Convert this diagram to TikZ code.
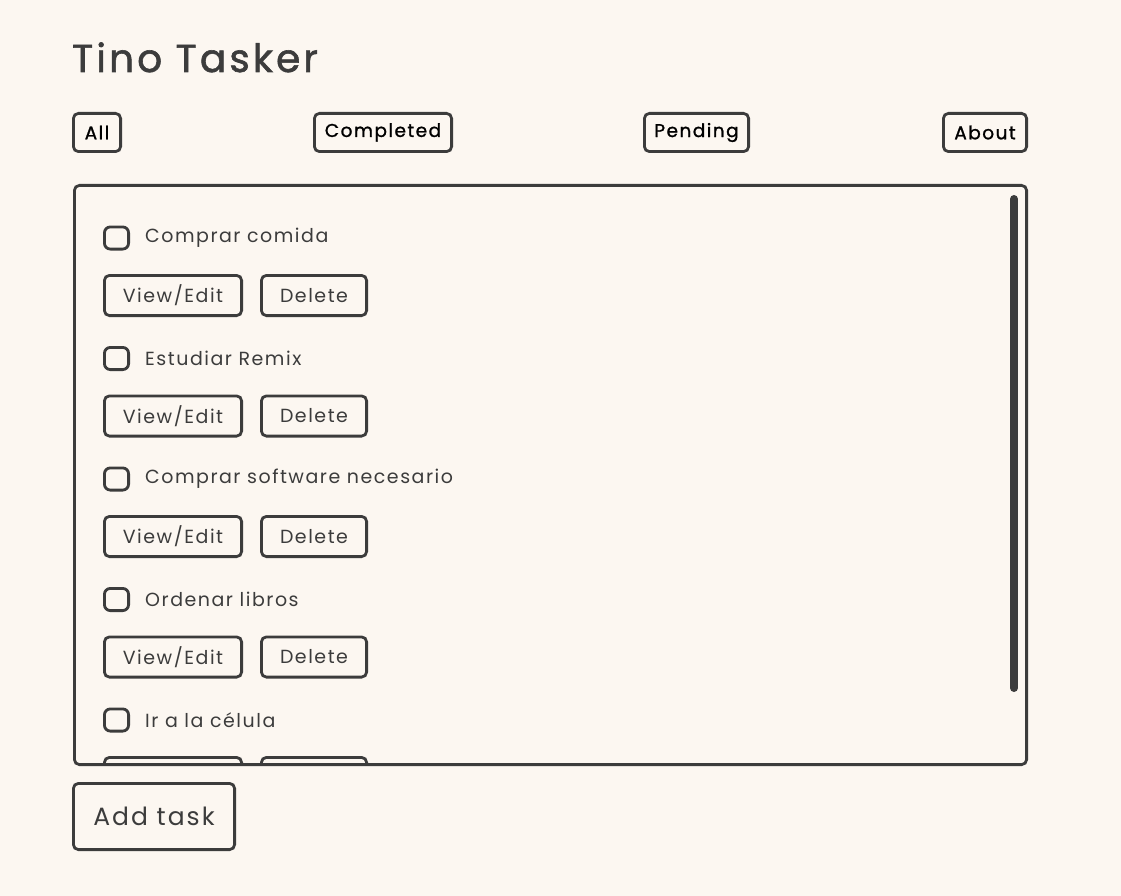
\documentclass[tikz,border=0pt]{standalone}
\usepackage{fontspec}
\setmainfont{Poppins}[LetterSpace=8]
\definecolor{paper}{HTML}{FCF7F1}
\definecolor{ink}{HTML}{3C3C3C}

\tikzset{
  btn/.style={draw=ink, line width=2.8pt, rounded corners=5pt, inner sep=0pt,
    anchor=north west, text=ink},
  filterbtn/.style={btn, minimum height=38.2, text=black,
    font=\fontsize{18.5}{18.5}\selectfont\addfontfeature{FakeBold=1.2}},
  itembtn/.style={btn, minimum height=40.2, font=\fontsize{19}{19}\selectfont},
  checkbox/.style={draw=ink, line width=2.8pt, rounded corners=6pt,
    minimum width=24.2, minimum height=22.2, inner sep=0pt},
  itemtext/.style={anchor=west, text=ink, inner sep=0pt,
    font=\fontsize{19}{19}\selectfont}
}

\begin{document}
\begin{tikzpicture}[x=1pt,y=-1pt]

  \useasboundingbox[fill=paper] (0,0) rectangle (1121,896);

  % title
  \node[anchor=base west, inner sep=0pt, text=ink,
    font=\fontsize{39}{39}\selectfont\addfontfeature{FakeBold=1.5}] (title)
    at (72,72) {Tino Tasker};

  % filters
  \node[filterbtn, minimum width=47.2] (all) at (72,112) {All};
  \node[filterbtn, minimum width=137.2] (completed) at (313,112) {Completed};
  \node[filterbtn, minimum width=104.2] (pending) at (643,112) {Pending};
  \node[filterbtn, minimum width=83.2] (about) at (942,112) {About};

  % task list
  \node[btn, minimum width=952.2, minimum height=579.2] (list) at (73,184) {};
  \draw[ink, line width=8pt, line cap=round] (1014,199) coordinate (sbtop)
    -- (1014,688) coordinate (sbbot);

  \begin{scope}
    \clip (76,187) rectangle (1025,763);
    \foreach \i/\task in {0/Comprar comida, 1/Estudiar Remix,
        2/Comprar software necesario, 3/Ordenar libros, 4/Ir a la célula} {
      \pgfmathsetmacro{\yy}{238+120.5*\i}
      \node[checkbox] (check\i) at (116.5,\yy) {};
      \node[itemtext] (task\i) at (145,\yy) {\task};
      \node[itembtn, minimum width=137.2] (edit\i) at (103,\yy+36) {View/Edit};
      \node[itembtn, minimum width=105.2] (delete\i) at (260,\yy+36) {Delete};
    }
  \end{scope}

  % add
  \node[btn, minimum width=161.2, minimum height=66.2,
    font=\fontsize{25}{25}\selectfont] (add) at (72,782) {Add task};

\end{tikzpicture}
\end{document}
